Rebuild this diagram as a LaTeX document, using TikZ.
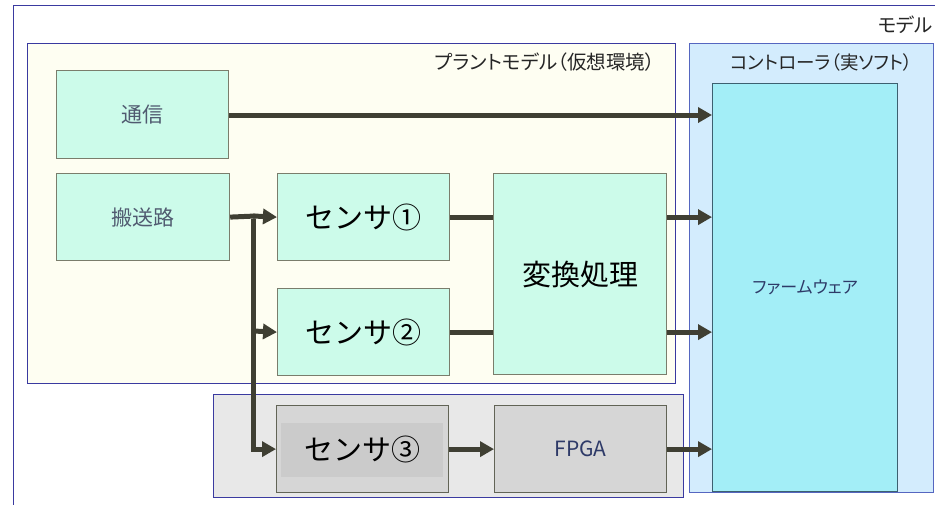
\documentclass[tikz,border=0pt]{standalone}
\usepackage{fontspec}
\setmainfont{Noto Sans CJK JP}
\newfontfamily\jpp{Noto Sans CJK JP}[RawFeature=+palt]
\usetikzlibrary{arrows.meta}
\definecolor{mint}{HTML}{CCFBEA}
\definecolor{mintline}{HTML}{7A7D6C}
\definecolor{plantfill}{HTML}{FEFEF2}
\definecolor{navyline}{HTML}{3A3AA0}
\definecolor{ctrlfill}{HTML}{D3ECFD}
\definecolor{ctrlline}{HTML}{5566C0}
\definecolor{fwfill}{HTML}{A3EEF7}
\definecolor{fwline}{HTML}{3D6070}
\definecolor{grayfill}{HTML}{E8E8E8}
\definecolor{hwfill}{HTML}{D6D6D6}
\definecolor{hwinner}{HTML}{CBCBCB}
\definecolor{arrowcol}{HTML}{3F3F33}
\definecolor{softtext}{HTML}{505A70}
\definecolor{navytext}{HTML}{2E3A68}
\tikzset{
  block/.style={draw=mintline, line width=1.2pt, fill=mint, anchor=north west, inner sep=0pt},
  smalltxt/.style={font=\fontsize{21}{23}\selectfont, text=softtext},
  bigtxt/.style={font=\fontsize{29}{32}\selectfont, text=black},
  hwblock/.style={draw=mintline!80!black, line width=1.2pt, fill=hwfill, anchor=north west, inner sep=0pt},
  group/.style={line width=1pt},
  lbl/.style={font=\jpp\fontsize{19.5}{22}\selectfont, text=black!85, inner sep=0pt},
  flow/.style={draw=arrowcol, line width=5pt},
  arr/.style={flow, -{Triangle[length=14pt,width=15pt]}},
}
\begin{document}
\begin{tikzpicture}[x=1pt,y=-1pt]
\clip (0,0) rectangle (935,504);
\fill[white] (0,0) rectangle (935,504);
% outer model box
\draw[draw=navyline, line width=1pt] (13,5) rectangle (980,560);
\node[lbl, anchor=east] (mlabel) at (933,25) {モデル};
% plant model
\draw[group, draw=navyline, fill=plantfill] (27,43) rectangle (675,383);
\node[lbl, anchor=east] (plabel) at (655,62) {プラントモデル（仮想環境）};
% controller
\draw[group, draw=ctrlline, fill=ctrlfill] (689,43) rectangle (933,492);
\node[lbl, anchor=east, font=\jpp\fontsize{18.5}{21}\selectfont] (clabel) at (913,62) {コントローラ（実ソフト）};
% hardware group
\draw[group, draw=navyline, fill=grayfill] (213,394) rectangle (683,497);
% firmware
\node[draw=fwline, line width=1.2pt, fill=fwfill, anchor=north west, minimum width=185pt, minimum height=408pt,
  font=\jpp\fontsize{17}{20}\selectfont, text=navytext] (fw) at (712,83) {ファームウェア};
% blocks
\node[block, smalltxt, minimum width=172pt, minimum height=88pt] (tsushin) at (56,70) {通信};
\node[block, smalltxt, minimum width=173pt, minimum height=87pt] (hanso) at (56,173) {搬送路};
\node[block, bigtxt, minimum width=172pt, minimum height=87pt] (s1) at (277,173) {センサ①};
\node[block, bigtxt, minimum width=172pt, minimum height=87pt] (s2) at (277,288) {センサ②};
\node[block, bigtxt, minimum width=173pt, minimum height=201pt] (conv) at (493,173) {変換処理};
\node[hwblock, minimum width=172pt, minimum height=87pt] (s3) at (276,405) {};
\fill[hwinner] (281,423) rectangle (443,477);
\node[bigtxt] (s3t) at (s3.center) {センサ③};
\node[hwblock, minimum width=172pt, minimum height=87pt, font=\fontsize{21}{23}\selectfont, text=navytext] (fpga) at (494,405) {FPGA};
% connectors
\coordinate (j1) at (253,216);
\coordinate (j2) at (253,331);
\draw[arr] (tsushin.east |- 0,115) -- (fw.west |- 0,115);
\draw[flow] (hanso.east) -- ([xshift=2.5pt]j1);
\draw[arr] (j1) -- (s1.west);
\draw[arr] (j2) -- (s2.west);
\draw[arr] ([yshift=-2.5pt]j1) |- (s3.west);
\draw[flow] (s1.east) -- (conv.west |- s1.east);
\draw[flow] (s2.east) -- (conv.west |- s2.east);
\draw[arr] (conv.east |- s1.east) -- (fw.west |- s1.east);
\draw[arr] (conv.east |- s2.east) -- (fw.west |- s2.east);
\draw[arr] (s3.east) -- (fpga.west);
\draw[arr] (fpga.east) -- (fw.west |- fpga.east);
\end{tikzpicture}
\end{document}
